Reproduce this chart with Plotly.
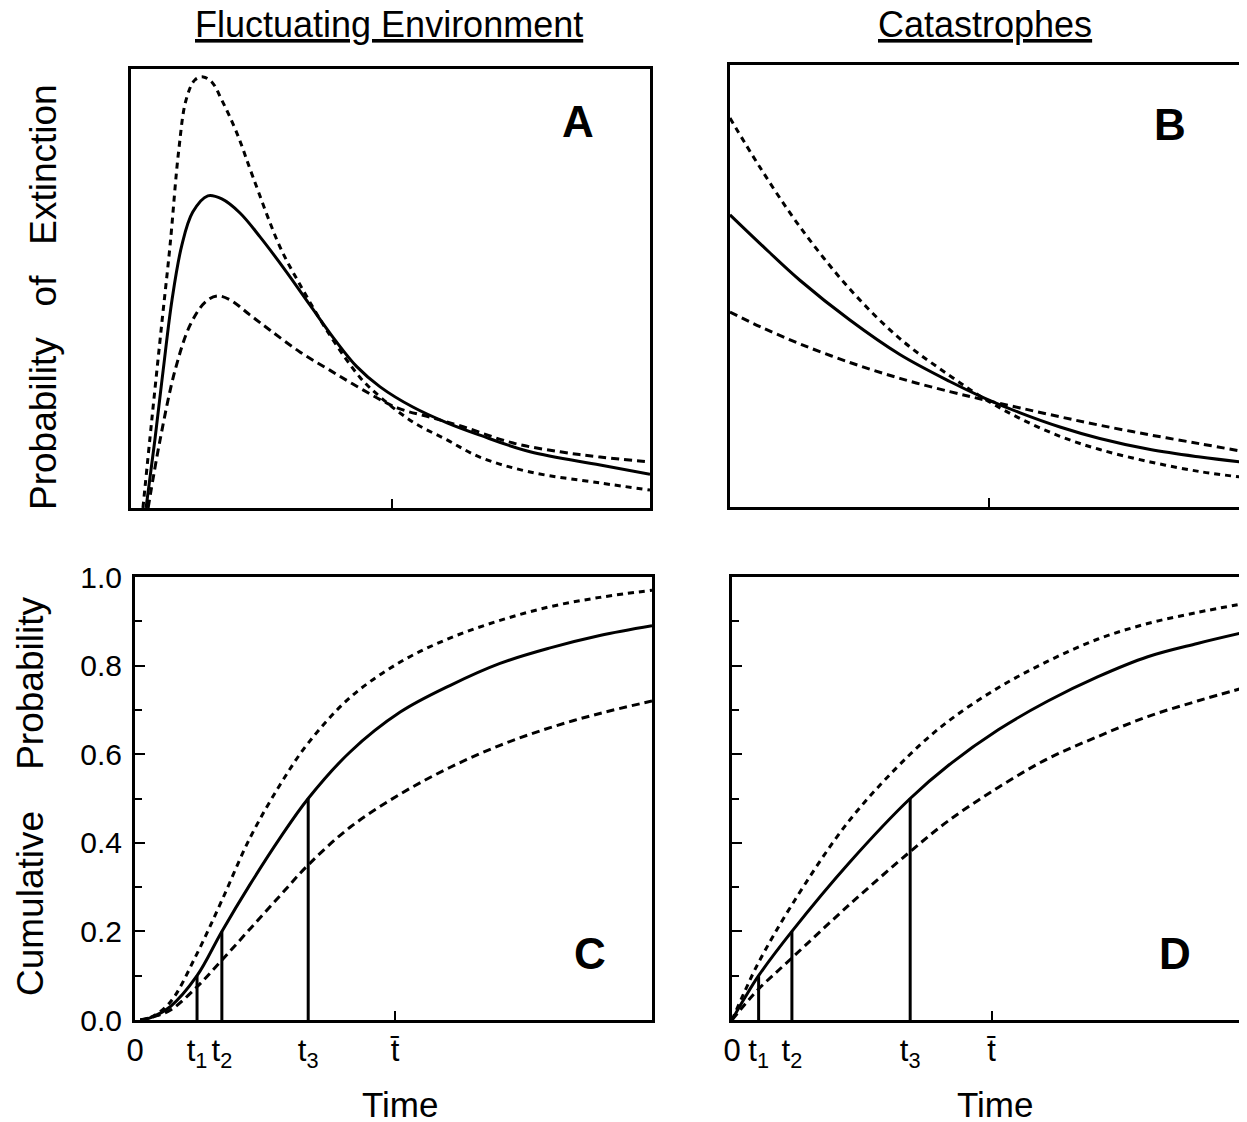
import plotly.graph_objects as go

# ---------------- data (time in arbitrary units 0..10) ----------------
# Panel A: probability of extinction, fluctuating environment
a_tall_t = [0.23, 0.40, 0.60, 0.75, 0.92, 1.06, 1.23, 1.39, 1.56, 1.75, 2.04, 2.35, 2.87, 3.26, 3.83, 4.41, 4.80, 5.43, 6.09, 6.72, 7.69, 9.04, 10.0]
a_tall_v = [0, 0.200, 0.428, 0.595, 0.815, 0.929, 0.975, 0.982, 0.970, 0.929, 0.854, 0.754, 0.595, 0.508, 0.394, 0.298, 0.253, 0.196, 0.155, 0.116, 0.082, 0.057, 0.041]
a_mid_t = [0.29, 0.46, 0.62, 0.79, 0.98, 1.19, 1.48, 1.75, 2.10, 2.49, 2.97, 3.45, 3.93, 4.35, 4.80, 5.43, 6.09, 6.72, 7.69, 9.04, 10.0]
a_mid_v = [0, 0.155, 0.314, 0.474, 0.599, 0.674, 0.711, 0.704, 0.672, 0.617, 0.542, 0.462, 0.383, 0.322, 0.276, 0.230, 0.194, 0.166, 0.128, 0.098, 0.077]
a_broad_t = [0.33, 0.56, 0.85, 1.14, 1.43, 1.66, 1.91, 2.29, 2.68, 3.26, 3.83, 4.47, 5.13, 5.76, 6.40, 7.36, 8.27, 9.04, 10.0]
a_broad_v = [0, 0.155, 0.314, 0.417, 0.469, 0.483, 0.474, 0.440, 0.405, 0.355, 0.314, 0.269, 0.228, 0.207, 0.185, 0.148, 0.128, 0.116, 0.105]

# Panel B: probability of extinction, catastrophes
b_t = [0, 0.59, 1.37, 2.35, 3.33, 4.31, 5.0, 5.69, 6.47, 7.25, 8.24, 9.22, 10.0]
b_steep_v = [0.880, 0.768, 0.634, 0.493, 0.381, 0.297, 0.244, 0.200, 0.160, 0.130, 0.102, 0.080, 0.068]
b_mid_v = [0.661, 0.596, 0.513, 0.423, 0.345, 0.284, 0.246, 0.213, 0.181, 0.155, 0.130, 0.113, 0.102]
b_shallow_v = [0.441, 0.408, 0.369, 0.327, 0.291, 0.261, 0.242, 0.224, 0.204, 0.185, 0.163, 0.143, 0.127]

# Panel C: cumulative probability, fluctuating environment
c_t = [0.10, 0.29, 0.68, 1.20, 1.68, 2.22, 2.80, 3.35, 4.16, 5.13, 6.09, 7.06, 8.03, 8.99, 10.0]
c_mid_v = [0, 0.005, 0.03, 0.10, 0.20, 0.305, 0.41, 0.50, 0.605, 0.695, 0.755, 0.805, 0.84, 0.868, 0.89]
c_upper_v = [0, 0.005, 0.04, 0.15, 0.27, 0.41, 0.53, 0.625, 0.728, 0.808, 0.862, 0.902, 0.933, 0.954, 0.97]
c_lower_v = [0, 0.005, 0.022, 0.075, 0.135, 0.205, 0.28, 0.35, 0.435, 0.51, 0.57, 0.62, 0.66, 0.692, 0.72]
c_mark_t = [1.20, 1.68, 3.35]
c_mark_v = [0.10, 0.20, 0.50]
c_tbar = 5.03

# Panel D: cumulative probability, catastrophes
d_t = [0, 0.25, 0.52, 1.17, 2.29, 3.48, 4.23, 5.20, 6.17, 7.15, 8.12, 9.09, 10.0]
d_mid_v = [0, 0.05, 0.10, 0.20, 0.355, 0.50, 0.575, 0.655, 0.72, 0.775, 0.82, 0.85, 0.875]
d_upper_v = [0, 0.065, 0.13, 0.26, 0.45, 0.60, 0.675, 0.75, 0.81, 0.86, 0.895, 0.92, 0.94]
d_lower_v = [0, 0.035, 0.07, 0.14, 0.26, 0.38, 0.45, 0.525, 0.59, 0.64, 0.685, 0.72, 0.75]
d_mark_t = [0.52, 1.17, 3.48]
d_mark_v = [0.10, 0.20, 0.50]
d_tbar = 5.07

x_ticktext = ["0", "t<sub>1</sub>", "t<sub>2</sub>", "t<sub>3</sub>", "t\u0304"]
y_tickvals = [0, 0.2, 0.4, 0.6, 0.8, 1.0]
y_ticktext = ["0.0", "0.2", "0.4", "0.6", "0.8", "1.0"]
y_minorvals = [0.1, 0.3, 0.5, 0.7, 0.9]

FONT = "Liberation Sans, Arial, Helvetica, sans-serif"
W, H = 1247, 1122
OFF = 8  # page body margin in the browser

fig = go.Figure()

def curve(x, y, xa, ya, dash="solid", shape="spline"):
    fig.add_trace(go.Scatter(
        x=x, y=y, xaxis=xa, yaxis=ya, mode="lines",
        line=dict(color="black", width=3, dash=dash, shape=shape, smoothing=1.0),
        showlegend=False, hoverinfo="skip"))

D1 = "6px,5px"
D2 = "8px,5px"

curve(a_tall_t, a_tall_v, "x", "y", D1)
curve(a_mid_t, a_mid_v, "x", "y")
curve(a_broad_t, a_broad_v, "x", "y", D2)

curve(b_t, b_steep_v, "x2", "y2", D1)
curve(b_t, b_mid_v, "x2", "y2")
curve(b_t, b_shallow_v, "x2", "y2", D2)

curve(c_t, c_upper_v, "x3", "y3", D1)
curve(c_t, c_mid_v, "x3", "y3")
curve(c_t, c_lower_v, "x3", "y3", D2)
for t, v in zip(c_mark_t, c_mark_v):
    curve([t, t], [0, v], "x3", "y3", shape="linear")

curve(d_t, d_upper_v, "x4", "y4", D1)
curve(d_t, d_mid_v, "x4", "y4")
curve(d_t, d_lower_v, "x4", "y4", D2)
for t, v in zip(d_mark_t, d_mark_v):
    curve([t, t], [0, v], "x4", "y4", shape="linear")

def px(x):
    return (x - OFF) / W

def py(y):
    return 1 - (y - OFF) / H

frame = dict(showline=True, linecolor="black", linewidth=3, mirror=True,
             showgrid=False, zeroline=False, automargin=False)

def xax(dom, anchor, tickvals, labels, tbar_only):
    d = dict(frame, domain=dom, anchor=anchor, range=[0, 10],
             ticks="inside", ticklen=9, tickwidth=2, tickcolor="black",
             tickvals=tickvals, tickfont=dict(family=FONT, size=31, color="black"))
    if tbar_only:
        d["showticklabels"] = False
    else:
        d["ticktext"] = labels
        d["ticklabelstandoff"] = 1
    return d

def yax(dom, anchor, cumulative, labels):
    d = dict(frame, domain=dom, anchor=anchor)
    if cumulative:
        d.update(range=[0, 1], ticks="inside", ticklen=10, tickwidth=2, tickcolor="black",
                 tickvals=y_tickvals, ticktext=y_ticktext, showticklabels=labels,
                 tickfont=dict(family=FONT, size=30, color="black"), ticklabelstandoff=4,
                 minor=dict(ticks="inside", ticklen=7, tickwidth=2, tickcolor="black",
                            tickvals=y_minorvals))
    else:
        d.update(range=[0, 1], ticks="", showticklabels=False)
    return d

dA_x, dA_y = [px(131), px(650)], [py(508), py(69)]
dB_x, dB_y = [px(730), px(1240)], [py(507), py(65)]
dC_x, dC_y = [px(135), px(652)], [py(1020), py(577)]
dD_x, dD_y = [px(732), px(1244)], [py(1020), py(577)]

fig.update_layout(
    template="none",
    width=W, height=H, margin=dict(l=0, r=0, t=0, b=0, autoexpand=False),
    paper_bgcolor="white", plot_bgcolor="white",
    font=dict(family=FONT, color="black"),
    xaxis=xax(dA_x, "y", [c_tbar], None, True),
    yaxis=yax(dA_y, "x", False, False),
    xaxis2=xax(dB_x, "y2", [d_tbar], None, True),
    yaxis2=yax(dB_y, "x2", False, False),
    xaxis3=xax(dC_x, "y3", [0] + c_mark_t + [c_tbar], x_ticktext, False),
    yaxis3=yax(dC_y, "x3", True, True),
    xaxis4=xax(dD_x, "y4", [0] + d_mark_t + [d_tbar], x_ticktext, False),
    yaxis4=yax(dD_y, "x4", True, False),
)

def note(text, x, y, size, angle=0, bold=False):
    fig.add_annotation(text=("<b>%s</b>" % text) if bold else text,
                       x=px(x), y=py(y), xref="paper", yref="paper",
                       xanchor="center", yanchor="middle", showarrow=False,
                       textangle=angle, font=dict(family=FONT, size=size, color="black"))

SP = "\u00a0\u00a0 "
SP2 = "\u00a0\u00a0\u00a0 "
note("<u>Fluctuating Environment</u>", 389, 24, 36)
note("<u>Catastrophes</u>", 985, 24, 36)
note("Probability" + SP + "of" + SP + "Extinction", 43, 297, 37, angle=-90)
note("Cumulative" + SP2 + "Probability", 30, 797, 37, angle=-90)
note("Time", 400, 1104, 35)
note("Time", 995, 1104, 35)
note("A", 578, 122, 44, bold=True)
note("B", 1170, 124, 44, bold=True)
note("C", 590, 953, 44, bold=True)
note("D", 1175, 953, 44, bold=True)

fig.write_html("out.html")
